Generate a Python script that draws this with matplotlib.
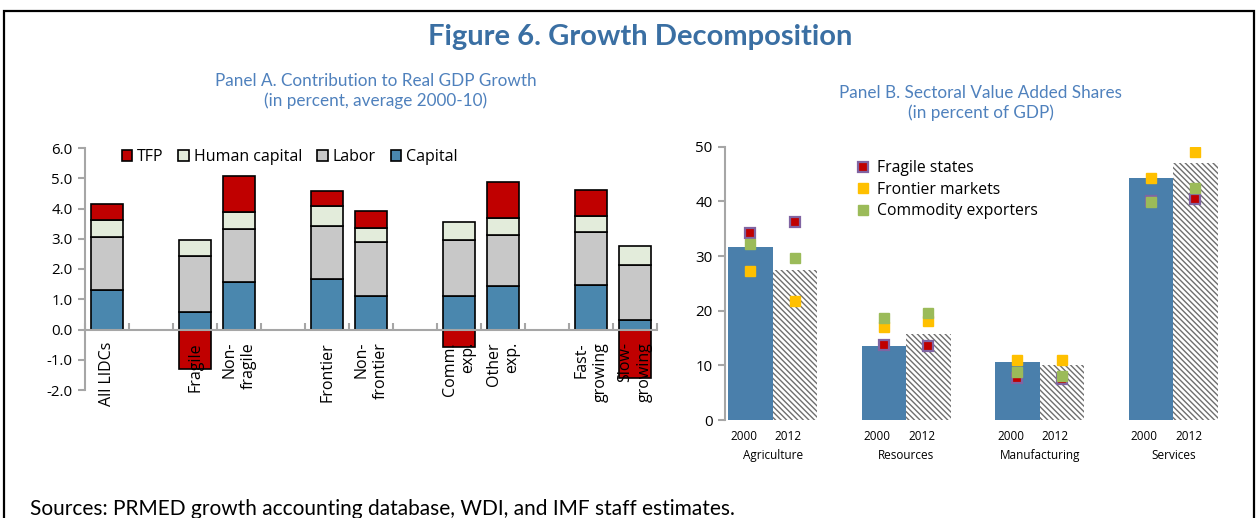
import numpy as np
import matplotlib
matplotlib.use('Agg')
import matplotlib.pyplot as plt
import matplotlib.patches as mpatches
from matplotlib.lines import Line2D

plt.rcParams['font.family'] = ['Open Sans', 'DejaVu Sans']
plt.rcParams['hatch.linewidth'] = 1.0

# ---- Panel A: contribution to real GDP growth (blank slots are gaps) ----
groups_a = ['All LIDCs', '', 'Fragile', 'Non-\nfragile', '', 'Frontier', 'Non-\nfrontier', '',
            'Comm.\nexp.', 'Other\nexp.', '', 'Fast-\ngrowing', 'Slow-\ngrowing']
capital = [1.32, np.nan, 0.57, 1.57, np.nan, 1.67, 1.10, np.nan, 1.10, 1.43, np.nan, 1.46, 0.30]
labor = [1.74, np.nan, 1.85, 1.75, np.nan, 1.74, 1.78, np.nan, 1.85, 1.71, np.nan, 1.75, 1.82]
human_capital = [0.57, np.nan, 0.55, 0.55, np.nan, 0.66, 0.48, np.nan, 0.59, 0.55, np.nan, 0.55, 0.63]
tfp = [0.53, np.nan, -1.30, 1.19, np.nan, 0.52, 0.57, np.nan, -0.57, 1.17, np.nan, 0.86, -1.60]

# ---- Panel B: sectoral value added shares ----
sectors = ['Agriculture', 'Resources', 'Manufacturing', 'Services']
years = ['2000', '2012']
lidc_2000 = [31.6, 13.5, 10.7, 44.3]
lidc_2012 = [27.4, 15.7, 10.05, 47.1]
fragile_2000 = [34.3, 13.7, 7.7, 40.0]
fragile_2012 = [36.2, 13.5, 7.45, 40.5]
frontier_2000 = [27.3, 17.1, 11.0, 44.3]
frontier_2012 = [21.8, 18.2, 11.0, 49.0]
commodity_2000 = [32.2, 18.7, 8.7, 39.8]
commodity_2012 = [29.7, 19.5, 8.1, 42.5]

c_cap = '#4a87ae'
c_lab = '#c8c8c8'
c_hc = '#e3ecdb'
c_tfp = '#c00000'
axis_gray = '#a6a6a6'
title_blue = '#3a6fa3'
panel_blue = '#4f81bd'
lato = ['Lato', 'DejaVu Sans']

fig = plt.figure(figsize=(12.58, 5.18), dpi=100)

# frame around the figure
fig.add_artist(mpatches.Rectangle((4 / 1258, -0.2), 1250 / 1258, 1.2 - 11 / 518,
                                  transform=fig.transFigure, fill=False,
                                  edgecolor='black', lw=1.6))

fig.text(0.5087, 0.929, 'Figure 6. Growth Decomposition', ha='center', va='center',
         fontsize=21, fontweight='bold', color=title_blue, family=lato)
fig.text(0.2985, 0.824, 'Panel A. Contribution to Real GDP Growth\n(in percent, average 2000-10)',
         ha='center', va='center', fontsize=12.3, color=panel_blue, linespacing=1.3,
         family=lato)
fig.text(0.7795, 0.801, 'Panel B. Sectoral Value Added Shares\n(in percent of GDP)',
         ha='center', va='center', fontsize=12.3, color=panel_blue, linespacing=1.3,
         family=lato)
fig.text(0.024, 0.018, 'Sources: PRMED growth accounting database, WDI, and IMF staff estimates.',
         ha='left', va='center', fontsize=15, color='black', family=lato)

# ---------------- Panel A ----------------
axa = fig.add_axes([85 / 1258, 1 - 390 / 518, 572 / 1258, 242 / 518])
x = np.arange(len(groups_a))
cap = np.array(capital)
lab = np.array(labor)
hc = np.array(human_capital)
tf = np.array(tfp)
w = 0.73
kw = dict(width=w, edgecolor='black', linewidth=1.2)
axa.bar(x, cap, color=c_cap, label='Capital', **kw)
axa.bar(x, lab, bottom=cap, color=c_lab, label='Labor', **kw)
axa.bar(x, hc, bottom=cap + lab, color=c_hc, label='Human capital', **kw)
tfp_bottom = np.where(tf > 0, cap + lab + hc, 0)
axa.bar(x, tf, bottom=tfp_bottom, color=c_tfp, label='TFP', **kw)

axa.set_xlim(-0.5, len(groups_a) - 0.5)
axa.set_ylim(-2, 6)
axa.set_yticks(np.arange(-2, 7, 1))
axa.set_yticklabels(['%.1f' % v for v in np.arange(-2, 7, 1)], fontsize=10.8)
axa.spines['top'].set_visible(False)
axa.spines['right'].set_visible(False)
axa.spines['left'].set_color(axis_gray)
axa.spines['left'].set_linewidth(1.5)
axa.spines['bottom'].set_position(('data', 0))
axa.spines['bottom'].set_color(axis_gray)
axa.spines['bottom'].set_linewidth(1.5)
axa.tick_params(axis='y', color=axis_gray, width=1.5, length=5, pad=4)
axa.set_xticks(np.arange(len(groups_a) + 1) - 0.5)
axa.set_xticklabels([])
axa.tick_params(axis='x', which='major', direction='in', color=axis_gray, width=1.5, length=5)
axa.set_xticks(x, minor=True)
axa.set_xticklabels(groups_a, minor=True, rotation=90, va='top', ha='center',
                    multialignment='right', fontsize=11.5, linespacing=1.25)
axa.tick_params(axis='x', which='minor', length=0, pad=9)
axa.patch.set_alpha(0)

h, l = axa.get_legend_handles_labels()
order = [3, 2, 1, 0]
axa.legend([h[i] for i in order], [l[i] for i in order], ncol=4, loc='center left',
           bbox_to_anchor=(0.064, 0.963), frameon=False, fontsize=11.5,
           handlelength=0.65, handleheight=0.65, handletextpad=0.3,
           columnspacing=0.95, borderpad=0, borderaxespad=0)

# ---------------- Panel B ----------------
axb = fig.add_axes([725 / 1258, 1 - 420 / 518, 515 / 1258, 273.3 / 518])
pos = np.arange(len(sectors)) * 3
axb.bar(pos, lidc_2000, width=1, color='#4a7fab', linewidth=0, zorder=1)
axb.bar(pos + 1, lidc_2012, width=1, color='white', edgecolor='#6e6e6e',
        hatch='\\\\\\\\\\\\', linewidth=0, zorder=1)

ms = 7.5
for xs, vals in ((pos, fragile_2000), (pos + 1, fragile_2012)):
    axb.plot(xs, vals, 's', color='#c00000', markeredgecolor='#8064a2', markeredgewidth=1.6,
             markersize=ms - 0.5, linestyle='none', zorder=3)
for xs, vals in ((pos, frontier_2000), (pos + 1, frontier_2012)):
    axb.plot(xs, vals, 's', color='#ffc000', markeredgecolor='#ffc000',
             markersize=ms, linestyle='none', zorder=4)
for xs, vals in ((pos, commodity_2000), (pos + 1, commodity_2012)):
    axb.plot(xs, vals, 's', color='#9bbb59', markeredgecolor='#9bbb59',
             markersize=ms, linestyle='none', zorder=5)

axb.set_xlim(-0.57, 11.0)
axb.set_ylim(0, 50)
axb.set_yticks(np.arange(0, 51, 10))
axb.tick_params(axis='y', labelsize=10.8, color=axis_gray, width=1.5, length=5, pad=4)
for s in ('top', 'right', 'bottom'):
    axb.spines[s].set_visible(False)
axb.spines['left'].set_color(axis_gray)
axb.spines['left'].set_linewidth(1.5)
axb.set_xticks(np.concatenate([pos - 0.15, pos + 0.85]))
axb.set_xticklabels([years[0]] * len(sectors) + [years[1]] * len(sectors), fontsize=8.5)
axb.tick_params(axis='x', length=0, pad=7)
for p, name in zip(pos, sectors):
    axb.text(p + 0.5, -0.13, name, transform=axb.get_xaxis_transform(), ha='center',
             va='center', fontsize=8.5)
axb.patch.set_alpha(0)

leg_handles = [
    Line2D([], [], marker='s', linestyle='none', color='#c00000', markeredgecolor='#8064a2',
           markeredgewidth=1.6, markersize=ms - 0.5),
    Line2D([], [], marker='s', linestyle='none', color='#ffc000', markersize=ms),
    Line2D([], [], marker='s', linestyle='none', color='#9bbb59', markersize=ms),
]
axb.legend(leg_handles, ['Fragile states', 'Frontier markets', 'Commodity exporters'],
           loc='upper left', bbox_to_anchor=(0.255, 0.95), frameon=False, fontsize=11.3,
           handlelength=0.8, handletextpad=0.5, labelspacing=0.35, borderpad=0,
           borderaxespad=0)

fig.savefig('out.png', dpi=100)
